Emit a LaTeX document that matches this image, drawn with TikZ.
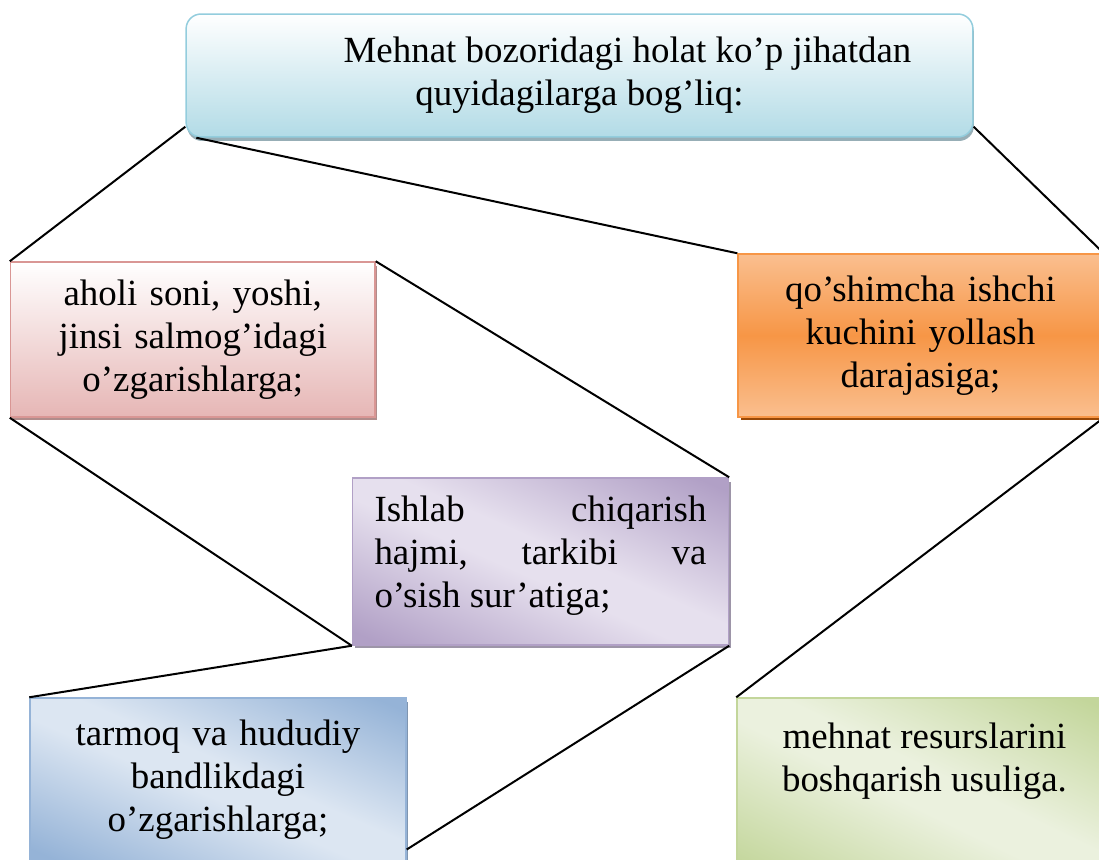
\documentclass[tikz,border=0pt]{standalone}
\usepackage{fontspec}
\setmainfont{Liberation Serif}
\usetikzlibrary{shadows,calc}
\definecolor{cyanB}{HTML}{93CDDD}
\definecolor{cyanF}{HTML}{B2DBE6}
\definecolor{cyanS}{HTML}{97AEB6}
\definecolor{pinkB}{HTML}{D99694}
\definecolor{pinkF}{HTML}{E6B6B5}
\definecolor{pinkS}{HTML}{B08C8B}
\definecolor{oraB}{HTML}{F79646}
\definecolor{oraL}{HTML}{FABF8F}
\definecolor{oraS}{HTML}{984807}
\definecolor{purD}{HTML}{B1A0C6}
\definecolor{purS}{HTML}{9D95A8}
\definecolor{bluD}{HTML}{95B3D7}
\definecolor{bluS}{HTML}{7F95B0}
\definecolor{grnD}{HTML}{C3D69B}
\pgfdeclarefunctionalshading{purdiag}{\pgfpointorigin}{\pgfpoint{100bp}{100bp}}{}{
  add 100 sub 50 div abs 0.12 sub 0.80 div dup 0 lt {pop 0} if dup 1 gt {pop 1} if
  dup -0.208 mul 0.902 add exch
  dup -0.251 mul 0.878 add exch
  -0.157 mul 0.933 add
}
\pgfdeclarefunctionalshading{bludiag}{\pgfpointorigin}{\pgfpoint{100bp}{100bp}}{}{
  add 100 sub 50 div abs 0.12 sub 0.80 div dup 0 lt {pop 0} if dup 1 gt {pop 1} if
  dup -0.279 mul 0.863 add exch
  dup -0.200 mul 0.902 add exch
  -0.106 mul 0.949 add
}
\pgfdeclarefunctionalshading{grndiag}{\pgfpointorigin}{\pgfpoint{100bp}{100bp}}{}{
  add 100 sub 50 div abs 0.12 sub 0.80 div dup 0 lt {pop 0} if dup 1 gt {pop 1} if
  dup -0.157 mul 0.922 add exch
  dup -0.106 mul 0.945 add exch
  -0.263 mul 0.871 add
}
\begin{document}
\begin{tikzpicture}[x=0.02cm, y=-0.02cm,
  font=\fontsize{21}{24.5}\selectfont,
  box/.style={draw, line width=0.03cm, inner sep=0pt, anchor=center},
  conn/.style={draw=black, line width=0.04cm},
  shad/.style={drop shadow={opacity=1, fill=#1, shadow xshift=0.05cm, shadow yshift=-0.07cm}},
  diag/.style={shade, shading=#1}]
\useasboundingbox (0,0) rectangle (1099,859);
\clip (0,0) rectangle (1099,859);

\node[box, rounded corners=0.3cm, draw=cyanB, top color=white, bottom color=cyanF,
  minimum width=15.74cm, minimum height=2.46cm, align=center,
  drop shadow={opacity=1, fill=cyanS, shadow xshift=0.02cm, shadow yshift=-0.08cm}]
  (top) at (579.5,75.5) {\hspace*{1.92cm}Mehnat bozoridagi holat ko’p jihatdan\\quyidagilarga bog’liq:};

\node[box, draw=pinkB, top color=white, bottom color=pinkF, shad=pinkS,
  minimum width=7.29cm, minimum height=3.1cm, text width=7cm, align=center]
  (pink) at (192.75,339.5) {aholi soni, yoshi,\\jinsi salmog’idagi\\o’zgarishlarga;};

\node[box, draw=oraB, top color=oraL, bottom color=oraL, middle color=oraB, shad=oraS,
  minimum width=7.3cm, minimum height=3.26cm, text width=7cm, align=center]
  (oran) at (920.5,335.5) {qo’shimcha ishchi\\kuchini yollash\\darajasiga;};

\node[box, draw=purD, diag=purdiag, shad=purS,
  minimum width=7.52cm, minimum height=3.34cm]
  (purp) at (540.5,561.5) {\parbox[c][3.34cm][t]{6.64cm}{\vspace*{0.36cm}Ishlab\hfill chiqarish\\hajmi,\hfill tarkibi\hfill va\\o’sish sur’atiga;}};

\node[box, draw=bluD, diag=bludiag, shad=bluS,
  minimum width=7.52cm, minimum height=3.28cm, text width=7.2cm, align=center]
  (blue) at (218,780) {tarmoq va hududiy\\bandlikdagi\\o’zgarishlarga;};

\node[box, draw=grnD, diag=grndiag,
  minimum width=7.5cm, minimum height=3.64cm]
  (grn) at (924.5,789) {\parbox[c][3.64cm][t]{7.5cm}{\centering\vspace*{0.5cm}mehnat resurslarini\\boshqarish usuliga.}};

\coordinate (bEnd) at ($(blue.north east)!0.92!(blue.south east)$);

\draw[conn] ($(top.south west)+(0,-11)$) -- (pink.north west);
\draw[conn] ($(top.south west)+(11,0)$) -- (oran.north west);
\draw[conn] ($(top.south east)+(0,-11)$) -- (oran.north east);
\draw[conn] (pink.north east) -- (purp.north east);
\draw[conn] (pink.south west) -- (purp.south west);
\draw[conn] (purp.south west) -- (blue.north west);
\draw[conn] (purp.south east) -- (bEnd);
\draw[conn] (oran.south east) -- (grn.north west);
\end{tikzpicture}
\end{document}
